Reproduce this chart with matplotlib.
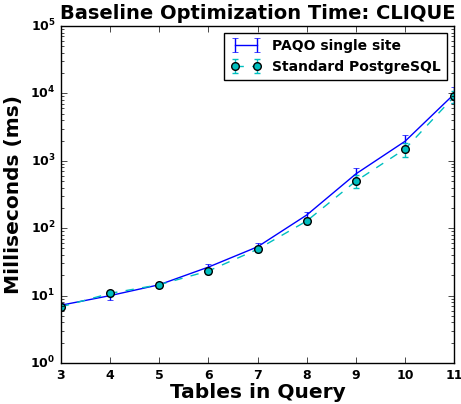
import matplotlib
matplotlib.use("Agg")
import matplotlib.pyplot as plt

plt.style.use("classic")
plt.rcParams["font.weight"] = "bold"
plt.rcParams["axes.labelweight"] = "bold"
plt.rcParams["mathtext.default"] = "bf"

tables = [3, 4, 5, 6, 7, 8, 9, 10, 11]

# PAQO single site timings (ms) and standard deviations
paqo_ms = [7.2, 10.0, 14.5, 26.5, 53, 157, 640, 1950, 9800]
paqo_err = [0.6, 1.3, 1.5, 2.5, 7, 18, 150, 450, 2500]

# Standard PostgreSQL timings (ms) and standard deviations
pg_ms = [6.8, 10.8, 14.5, 23.2, 48.7, 128, 500, 1500, 9000]
pg_err = [0.5, 0.8, 1.0, 2.0, 4, 12, 110, 350, 1800]

fig = plt.figure(figsize=(4.61, 4.04), dpi=100, facecolor="white")
ax = fig.add_axes([0.1323, 0.1015, 0.8530, 0.8341])

ax.errorbar(tables, paqo_ms, yerr=paqo_err, color="b", ecolor="b",
            linestyle="-", linewidth=1, capsize=2.5, label="PAQO single site")
ax.errorbar(tables, pg_ms, yerr=pg_err, color="c", ecolor="c",
            linestyle="--", linewidth=1, marker="o", markersize=5.5,
            markerfacecolor="c", markeredgecolor="k", markeredgewidth=1,
            capsize=2.5, label="Standard PostgreSQL")

ax.set_yscale("log")
ax.set_xlim(3, 11)
ax.set_ylim(1, 1e5)
ax.set_xticks(tables)

ax.set_title("Baseline Optimization Time: CLIQUE", fontsize=14,
             fontweight="bold", y=1.0)
ax.set_xlabel("Tables in Query", fontsize=14.5, fontweight="bold", labelpad=1)
ax.set_ylabel("Milliseconds (ms)", fontsize=14.5, fontweight="bold", labelpad=5)
ax.tick_params(labelsize=9)

leg = ax.legend(loc="upper right", fontsize=10, numpoints=2,
                fancybox=False, borderaxespad=0.5, borderpad=0.45,
                handlelength=2.2)
leg.get_frame().set_linewidth(1)

fig.savefig("out.png", dpi=100, facecolor="white")
